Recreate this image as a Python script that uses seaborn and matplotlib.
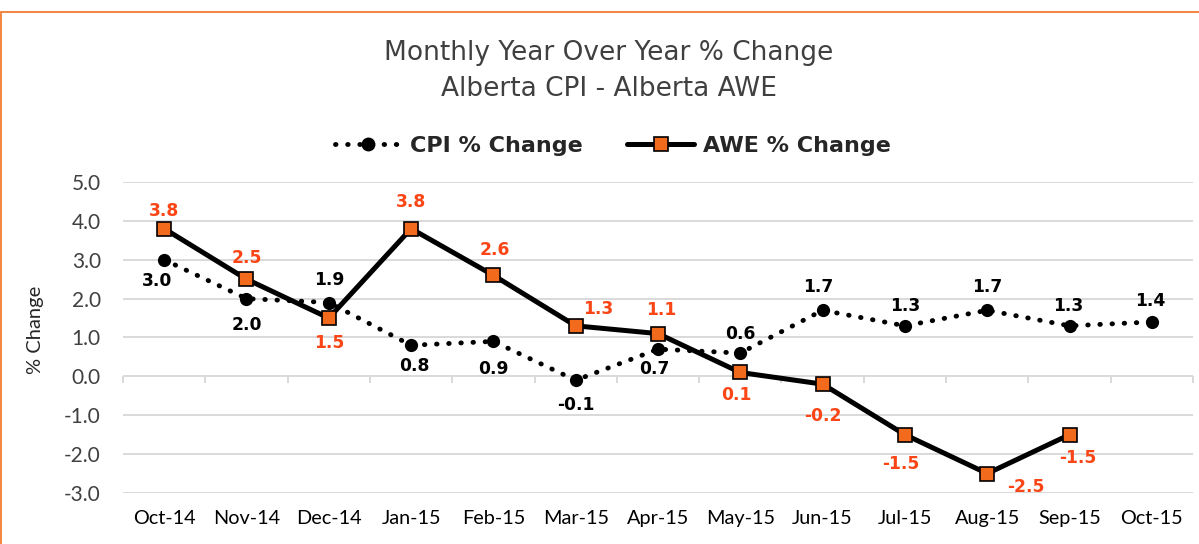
import matplotlib
matplotlib.use("Agg")
import matplotlib.pyplot as plt
import seaborn as sns
import pandas as pd
import numpy as np
from matplotlib.lines import Line2D
from matplotlib.patches import Rectangle

months = ['Oct-14', 'Nov-14', 'Dec-14', 'Jan-15', 'Feb-15', 'Mar-15', 'Apr-15',
          'May-15', 'Jun-15', 'Jul-15', 'Aug-15', 'Sep-15', 'Oct-15']
cpi = [3.0, 2.0, 1.9, 0.8, 0.9, -0.1, 0.7, 0.6, 1.7, 1.3, 1.7, 1.3, 1.4]
awe = [3.8, 2.5, 1.5, 3.8, 2.6, 1.3, 1.1, 0.1, -0.2, -1.5, -2.5, -1.5, np.nan]
yticks = [-3.0, -2.0, -1.0, 0.0, 1.0, 2.0, 3.0, 4.0, 5.0]

# label offsets in points (style only)
cpi_off = [(-5, -15), (0, -19), (0, 16), (2, -15), (0, -20), (0, -18), (-3, -14),
           (0, 14), (-3, 17), (0, 14), (0, 17), (-1, 14), (-1, 15)]
awe_off = [(0, 13), (0, 15), (0, -18), (0, 19), (1, 18), (16, 12), (2, 17),
           (-3, -16), (0, -23), (-3, -21), (28, -10), (6, -17)]

df = pd.DataFrame({'pos': range(len(months)), 'cpi': cpi, 'awe': awe})

sns.set_style("white")
plt.rcParams['axes.unicode_minus'] = False
plt.rcParams['font.family'] = ['DejaVu Sans']

fig = plt.figure(figsize=(11.99, 5.44), dpi=100)
ax = fig.add_axes([0.1026, 0.0938, 0.8924, 0.5716])

orange = '#F26B1D'
label_red = '#FA4616'
grid_c = '#d9d9d9'

sns.lineplot(data=df, x='pos', y='cpi', ax=ax, color='black', linewidth=3.5,
             linestyle=(0, (0.1, 2.4)), dash_capstyle='round',
             marker='o', markersize=9.5, markeredgewidth=0, markerfacecolor='black',
             estimator=None, sort=False, zorder=3)
awe_df = df.dropna(subset=['awe'])
sns.lineplot(data=awe_df, x='pos', y='awe', ax=ax, color='black', linewidth=3.6,
             marker='s', markersize=10.5, markerfacecolor=orange,
             markeredgecolor='black', markeredgewidth=1.2,
             estimator=None, sort=False, zorder=4)

for i, v in enumerate(cpi):
    ax.annotate(f"{v:.1f}", (i, v), xytext=cpi_off[i], textcoords='offset points',
                ha='center', va='center', fontsize=12.3, fontweight='bold',
                color='black', zorder=5)
for i, v in enumerate(awe):
    if np.isnan(v):
        continue
    ax.annotate(f"{v:.1f}", (i, v), xytext=awe_off[i], textcoords='offset points',
                ha='center', va='center', fontsize=12.3, fontweight='bold',
                color=label_red, zorder=5)

ax.set_xlim(-0.5, len(months) - 0.5)
ax.set_ylim(-3, 5)
ax.set_yticks(yticks)
ax.set_yticklabels([f"{t:.1f}" for t in yticks], fontsize=15, color='#404040',
                   family=['Lato', 'DejaVu Sans'])
ax.set_xticks(range(len(months)))
ax.set_xticklabels(months, fontsize=14.3, color='black', family=['Lato', 'DejaVu Sans'])
ax.tick_params(axis='both', length=0)
ax.tick_params(axis='y', pad=16)
ax.tick_params(axis='x', pad=12)
ax.set_xlabel('')
ax.set_ylabel('')
for s in ax.spines.values():
    s.set_visible(False)
ax.grid(axis='y', color=grid_c, linewidth=1.4)
ax.set_axisbelow(True)

# category boundary tick marks on the zero line
bounds = np.arange(len(months) + 1) - 0.5
ax.vlines(bounds, -0.17, 0, color=grid_c, linewidth=1.4, zorder=1, clip_on=False)

fig.text(35 / 1199, 1 - 330 / 544, '% Change', rotation=90, ha='center', va='center',
         fontsize=14.5, family=['Lato', 'DejaVu Sans'])

fig.text(0.508, 1 - 71 / 544, 'Monthly Year Over Year % Change\nAlberta CPI - Alberta AWE',
         ha='center', va='center', fontsize=19, color='#404040', linespacing=1.5)

handles = [
    Line2D([], [], color='black', linewidth=3.5, linestyle=(0, (0.1, 2.4)),
           dash_capstyle='round', marker='o', markersize=10, markeredgewidth=0),
    Line2D([], [], color='black', linewidth=3.6, marker='s', markersize=10.5,
           markerfacecolor=orange, markeredgecolor='black', markeredgewidth=1.2),
]
fig.legend(handles, ['CPI % Change', 'AWE % Change'], loc='center',
           bbox_to_anchor=(0.511, 1 - 146 / 544), ncol=2, frameon=False,
           prop={'weight': 'bold', 'size': 16}, handlelength=3.0, columnspacing=2.0,
           handletextpad=0.4)

fig.patches.append(Rectangle((0.0008, -0.1), 1.2, 1.1 - 12 / 544, transform=fig.transFigure,
                             fill=False, edgecolor='#F07C2F', linewidth=1.3))

plt.savefig('out.png', dpi=100)
